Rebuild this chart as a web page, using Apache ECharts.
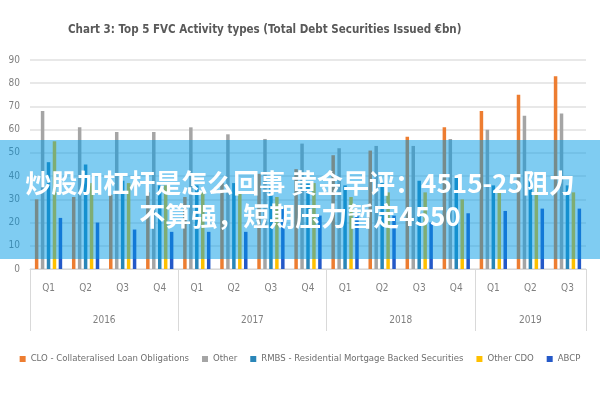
<!DOCTYPE html>
<html><head><meta charset="utf-8">
<script src="https://cdn.jsdelivr.net/npm/echarts@6/dist/echarts.min.js"></script>
<style>html,body{margin:0;padding:0;background:#fff}#c{width:600px;height:400px}</style>
</head><body><div id="c"></div>
<script>
const quarters = ['Q1','Q2','Q3','Q4','Q1','Q2','Q3','Q4','Q1','Q2','Q3','Q4','Q1','Q2','Q3'];
const years = ['2016','2017','2018','2019'];
const yearCenters = [2, 6, 10, 13.5];
const yearBounds = [0, 4, 8, 12, 15];
const clo     = [30, 31, 32, 33, 31, 37, 41, 43, 49, 51, 57, 61, 68, 75, 83];
const other   = [68, 61, 59, 59, 61, 58, 56, 54, 52, 53, 53, 56, 60, 66, 67];
const rmbs    = [46, 45, 38, 36, 36, 37, 36, 37, 36, 37, 38, 40, 36, 38, 36];
const otherCdo= [55, 37, 37, 36, 33, 33, 31, 37, 31, 33, 33, 30, 33, 35, 33];
const abcp    = [22, 20, 17, 16, 16, 16, 26, 23, 23, 23, 20, 24, 25, 26, 26];
const seriesNames = ['CLO - Collateralised Loan Obligations','Other','RMBS - Residential Mortgage Backed Securities','Other CDO','ABCP'];
const colors = ['#ED7D31','#A5A5A5','#2A86B8','#FFC000','#2559C8'];
const bannerLines = ['炒股加杠杆是怎么回事 黄金早评：4515-25阻力','不算强，短期压力暂定4550'];

const font = '"DejaVu Sans Condensed", "Liberation Sans", sans-serif';
const chart = echarts.init(document.getElementById('c'));
const dataSets = [clo, other, rmbs, otherCdo, abcp];
chart.setOption({
  animation: false,
  color: colors,
  title: {
    text: 'Chart 3: Top 5 FVC Activity types (Total Debt Securities Issued €bn)',
    left: 63, top: 19,
    textStyle: {fontFamily: font, fontSize: 11.5, fontWeight: 'bold', color: '#595959'}
  },
  legend: {
    bottom: 36, left: 'center', width: 598, padding: 0, icon: 'rect', itemWidth: 6, itemHeight: 6, itemGap: 13,
    textStyle: {fontFamily: font, fontSize: 9.5, color: '#6e6e6e'},
    data: seriesNames
  },
  grid: {left: 30, right: 14, top: 60, bottom: 131},
  xAxis: [
    {
      type: 'category', data: quarters, position: 'bottom',
      axisLine: {lineStyle: {color: '#d9d9d9'}},
      axisTick: {length: 30, lineStyle: {color: '#d9d9d9'}},
      axisLabel: {margin: 14, fontFamily: font, fontSize: 10, color: '#808080'}
    },
    {
      type: 'value', min: 0, max: 15, position: 'bottom',
      axisLine: {show: false},
      splitLine: {show: false},
      axisTick: {show: true, length: 62, customValues: yearBounds, lineStyle: {color: '#d9d9d9'}},
      axisLabel: {
        customValues: yearCenters, margin: 46, fontFamily: font, fontSize: 10, color: '#808080',
        formatter: v => years[yearCenters.indexOf(v)]
      }
    }
  ],
  yAxis: {
    type: 'value', min: 0, max: 90, interval: 10,
    axisLine: {show: false}, axisTick: {show: false},
    axisLabel: {margin: 10, fontFamily: font, fontSize: 10, color: '#808080'},
    splitLine: {lineStyle: {color: '#e0e0e0', width: 1.5}}
  },
  series: seriesNames.map((n, i) => ({
    name: n, type: 'bar', xAxisIndex: 0, data: dataSets[i],
    barWidth: 3.5, barGap: '70%'
  })),
  graphic: [
    {type: 'rect', z: 100, shape: {x: 0, y: 140, width: 600, height: 119}, style: {fill: 'rgba(0,153,229,0.5)'}},
    {type: 'text', z: 101, x: 300, y: 183, style: {text: bannerLines[0], fill: '#fff', font: 'bold 26px "Noto Sans CJK SC"', align: 'center', verticalAlign: 'middle'}},
    {type: 'text', z: 101, x: 300, y: 216, style: {text: bannerLines[1], fill: '#fff', font: 'bold 26px "Noto Sans CJK SC"', align: 'center', verticalAlign: 'middle'}}
  ]
});
</script></body></html>
